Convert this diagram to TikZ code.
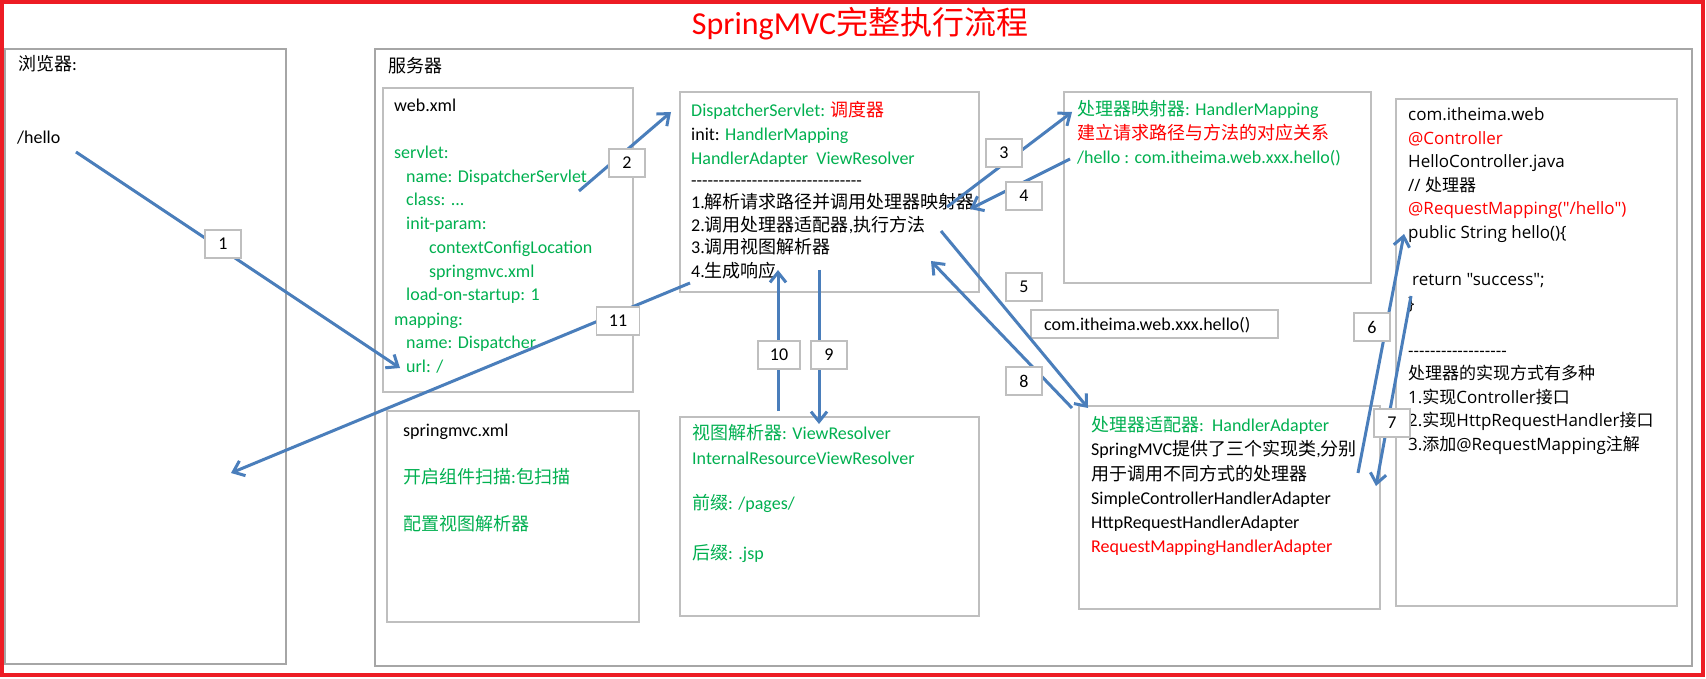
\documentclass[tikz,border=0pt]{standalone}
\usepackage{fontspec}
\usetikzlibrary{arrows.meta}
\newfontfamily\calf{Carlito}
\newfontfamily\cjkf{Noto Sans CJK SC}
\newfontfamily\segf{Open Sans}
\newcommand\zh[1]{{\cjkf #1}}
\definecolor{grn}{HTML}{00B050}
\definecolor{rd}{HTML}{FF0000}
\definecolor{frm}{HTML}{ED1C24}
\definecolor{arr}{HTML}{4A7EBB}
\definecolor{bx}{HTML}{BFBFBF}
\definecolor{obx}{HTML}{A6A6A6}
\tikzset{
  panel/.style={draw=bx, line width=1.3pt},
  outer/.style={draw=obx, line width=1.2pt},
  tl/.style={anchor=base west, inner sep=0pt, font=\calf\fontsize{18}{22}\selectfont},
  ts/.style={anchor=base west, inner sep=0pt, font=\segf\fontsize{17}{22}\selectfont},
  lbl/.style={draw=bx, line width=1.2pt, fill=white, minimum width=36pt, minimum height=28pt, inner sep=0pt, font=\calf\fontsize{18}{22}\selectfont},
  flow/.style={draw=arr, line width=3pt, -{Straight Barb[length=10pt,width=16pt]}},
}
\newcommand\tx[4]{\node[tl] (#1) at (#2,#3) {#4};}
\newcommand\ts[4]{\node[ts] (#1) at (#2,#3) {#4};}
\begin{document}
\begin{tikzpicture}[x=1pt,y=-1pt]
\useasboundingbox (0,0) rectangle (1706,679);
\fill[white] (0,0) rectangle (1706,679);
\draw[frm, line width=4.5pt] (2,2) rectangle (1703,675);
\node[text=rd, font=\calf\fontsize{32}{36}\selectfont] (title) at (860,24) {SpringMVC\zh{完整执行流程}};

% outer boxes
\draw[outer] (5,49) rectangle (286,664);
\node[inner sep=0pt] (browser) at (145,356) {};
\draw[outer] (375,49) rectangle (1692,666);
\node[inner sep=0pt] (server) at (1033,357) {};
\tx{bt}{18}{71}{\zh{浏览器}:}
\tx{bh}{17}{144}{/hello}
\tx{st}{388}{73}{\zh{服务器}}

% web.xml
\draw[panel] (383,88) rectangle (633,392);
\tx{w1}{394}{112}{web.xml}
\tx{w2}{394}{159}{\color{grn}servlet:}
\tx{w3}{406}{183}{\color{grn}name: DispatcherServlet}
\tx{w4}{406}{206}{\color{grn}class: ...}
\tx{w5}{406}{230}{\color{grn}init-param:}
\tx{w6}{429}{254}{\color{grn}contextConfigLocation}
\tx{w7}{429}{277}{\color{grn}springmvc.xml}
\tx{w8}{406}{301}{\color{grn}load-on-startup: 1}
\tx{w9}{394}{325}{\color{grn}mapping:}
\tx{w10}{406}{348}{\color{grn}name: Dispatcher}
\tx{w11}{406}{372}{\color{grn}url: /}

% springmvc.xml
\draw[panel] (387,411) rectangle (639,622);
\tx{s1}{403}{436}{springmvc.xml}
\tx{s2}{403}{483}{\color{grn}\zh{开启组件扫描}:\zh{包扫描}}
\tx{s3}{403}{530}{\color{grn}\zh{配置视图解析器}}

% DispatcherServlet
\draw[panel] (680,92) rectangle (979,292);
\tx{d1}{691}{117}{\color{grn}DispatcherServlet: \color{rd}\zh{调度器}}
\tx{d2}{691}{141}{init: \color{grn}HandlerMapping}
\tx{d3}{691}{165}{\color{grn}HandlerAdapter\ \ ViewResolver}
\tx{d4}{691}{187}{{-}{-}{-}{-}{-}{-}{-}{-}{-}{-}{-}{-}{-}{-}{-}{-}{-}{-}{-}{-}{-}{-}{-}{-}{-}{-}{-}{-}{-}{-}{-}}
\tx{d5}{691}{209}{1.\zh{解析请求路径并调用处理器映射器}}
\tx{d6}{691}{232}{2.\zh{调用处理器适配器},\zh{执行方法}}
\tx{d7}{691}{254}{3.\zh{调用视图解析器}}
\tx{d8}{691}{277}{4.\zh{生成响应}}

% HandlerMapping
\draw[panel] (1064,92) rectangle (1371,283);
\tx{m1}{1077}{116}{\color{grn}\zh{处理器映射器}: HandlerMapping}
\tx{m2}{1077}{140}{\color{rd}\zh{建立请求路径与方法的对应关系}}
\tx{m3}{1077}{164}{\color{grn}/hello : com.itheima.web.xxx.hello()}

% ViewResolver
\draw[panel] (680,417) rectangle (979,616);
\tx{v1}{692}{439}{\color{grn}\zh{视图解析器}: ViewResolver}
\tx{v2}{692}{464}{\color{grn}InternalResourceViewResolver}
\tx{v3}{692}{509}{\color{grn}\zh{前缀}: /pages/}
\tx{v4}{692}{559}{\color{grn}\zh{后缀}: .jsp}

% method box
\draw[panel] (1031,310) rectangle (1278,338);
\tx{hx}{1044}{330}{com.itheima.web.xxx.hello()}

% HandlerAdapter
\draw[panel] (1079,406) rectangle (1380,609);
\tx{h1}{1091}{431}{\color{grn}\zh{处理器适配器}:\ \ HandlerAdapter}
\tx{h2}{1091}{455}{SpringMVC\zh{提供了三个实现类},\zh{分别}}
\tx{h3}{1091}{480}{\zh{用于调用不同方式的处理器}}
\tx{h4}{1091}{504}{SimpleControllerHandlerAdapter}
\tx{h5}{1091}{528}{HttpRequestHandlerAdapter}
\tx{h6}{1091}{552}{\color{rd}RequestMappingHandlerAdapter}

% Controller
\draw[panel] (1396,99) rectangle (1677,606);
\ts{c1}{1408}{121}{com.itheima.web}
\ts{c2}{1408}{144.5}{\color{rd}@Controller}
\ts{c3}{1408}{168}{HelloController.java}
\ts{c4}{1408}{191.5}{// \zh{处理器}}
\ts{c5}{1408}{215}{\color{rd}@RequestMapping("/hello")}
\ts{c6}{1408}{238.5}{public String hello()\{}
\ts{c7}{1412}{285.5}{return "success";}
\ts{c8}{1408}{309}{\}}
\ts{c9}{1408}{356}{{-}{-}{-}{-}{-}{-}{-}{-}{-}{-}{-}{-}{-}{-}{-}{-}{-}{-}}
\ts{c10}{1408}{379.5}{\zh{处理器的实现方式有多种}}
\ts{c11}{1408}{403}{1.\zh{实现}Controller\zh{接口}}
\ts{c12}{1408}{426.5}{2.\zh{实现}HttpRequestHandler\zh{接口}}
\ts{c13}{1408}{450}{3.\zh{添加}@RequestMapping\zh{注解}}

% arrow end points
\coordinate (a1s) at (76,152);   \coordinate (a1e) at (400,368);
\coordinate (a2s) at (579,191);  \coordinate (a2e) at (671,112);
\coordinate (a3s) at (947,207);  \coordinate (a3e) at (1072,112);
\coordinate (a4s) at (1070,159); \coordinate (a4e) at (970,209);
\coordinate (a5s) at (941,231);  \coordinate (a5e) at (1088,408);
\coordinate (a6s) at (1358,473); \coordinate (a6e) at (1404,234);
\coordinate (a7s) at (1411,296); \coordinate (a7e) at (1376,486);
\coordinate (a8s) at (1072,408); \coordinate (a8e) at (931,261);
\coordinate (a9s) at (819,270);  \coordinate (a9e) at (819,424);
\coordinate (a10s) at (778,411); \coordinate (a10e) at (778,270);
\coordinate (a11s) at (690,283); \coordinate (a11e) at (231,473);

\foreach \i in {1,...,11} {\draw[flow] (a\i s) -- (a\i e);}

% labels
\node[lbl] (n1) at (223,244) {1};
\node[lbl] (n2) at (627,163) {2};
\node[lbl] (n3) at (1004,153) {3};
\node[lbl] (n4) at (1024,196) {4};
\node[lbl] (n5) at (1024,287) {5};
\node[lbl] (n6) at (1372,327) {6};
\node[lbl] (n7) at (1392,423) {7};
\node[lbl] (n8) at (1024,381) {8};
\node[lbl] (n9) at (829,355) {9};
\node[lbl, minimum width=42pt] (n10) at (779,355) {10};
\node[lbl, minimum width=43pt] (n11) at (618,321) {11};
\end{tikzpicture}
\end{document}
